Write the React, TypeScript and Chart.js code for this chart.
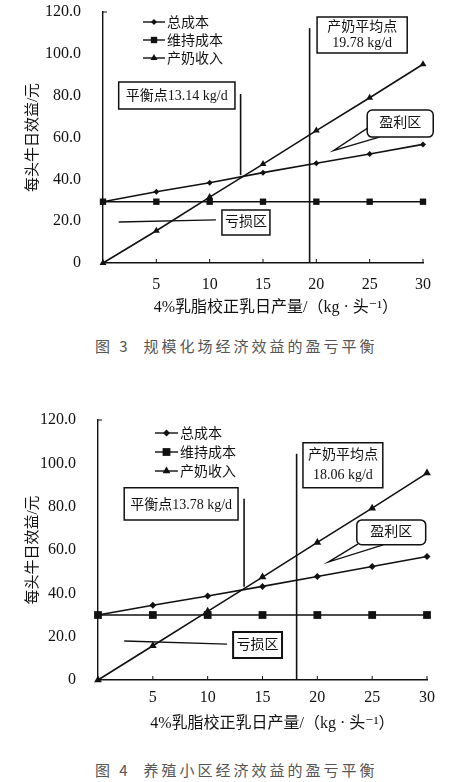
import React, { useEffect, useRef } from 'react';
import { Chart, registerables } from 'chart.js';
import { drawPoint } from 'chart.js/helpers';

Chart.register(...registerables);

// ---------- data ----------
const xValues = [0, 5, 10, 15, 20, 25, 30];
const yTickStep = 20;
const yMax = 120;
const xMax = 30;
const seriesLabels = ['总成本', '维持成本', '产奶收入'];

// 图3 规模化场
const farmTotalCost = [29.3, 34.1, 38.4, 43.2, 47.7, 52.1, 56.7];
const farmMaintCost = [29.3, 29.3, 29.3, 29.3, 29.3, 29.3, 29.3];
const farmMilkIncome = [0, 15.4, 31.5, 47.3, 63.3, 79.0, 95.0];

// 图4 养殖小区
const zoneTotalCost = [30.0, 34.5, 38.8, 43.2, 47.8, 52.4, 57.0];
const zoneMaintCost = [30.0, 30.0, 30.0, 30.0, 30.0, 30.0, 30.0];
const zoneMilkIncome = [0, 15.8, 31.7, 47.5, 63.5, 79.3, 95.5];

const xTitle = '4%乳脂校正乳日产量/（kg · 头⁻¹）';
const yTitle = '每头牛日效益/元';

// ---------- styles ----------
const INK = '#111';
const FONT = '"Liberation Serif", "Times New Roman", "DejaVu Serif", "Noto Sans CJK SC", serif';
const pointStyles = ['rectRot', 'rect', 'triangle'];

type Box = [number, number, number, number]; // x1, y1, x2, y2 in data units

interface PanelCfg {
  height: number;
  padTop: number;
  padRight: number;
  yAxisWidth: number;
  xAxisHeight: number;
  xTickPad: number;
  xTitleCenter: number;
  xTitleDy: number;
  series: number[][];
  radii: number[];
  legendDx: number;
  legendDy: number[];
  legendLen: number;
  breakEvenText: string;
  breakEvenBox: Box;
  breakEvenLine: [number, number, number];
  avgText: string[];
  avgBox: Box;
  avgLine: [number, number, number];
  profitText: string;
  profitBox: Box;
  profitTail: [number, number][];
  lossText: string;
  lossBox: Box;
  lossLine: [number, number, number, number];
  lossBorder: number;
}

const farmCfg: PanelCfg = {
  height: 325,
  padTop: 12,
  padRight: 42,
  yAxisWidth: 103,
  xAxisHeight: 62,
  xTickPad: 4,
  xTitleCenter: 16.2,
  xTitleDy: 45,
  series: [farmTotalCost, farmMaintCost, farmMilkIncome],
  radii: [3, 4.5, 4],
  legendDx: 40,
  legendDy: [10, 28, 46],
  legendLen: 22,
  breakEvenText: '平衡点13.14 kg/d',
  breakEvenBox: [1.47, 86.5, 12.37, 73.6],
  breakEvenLine: [12.9, 42, 80.8],
  avgText: ['产奶平均点', '19.78 kg/d'],
  avgBox: [20.07, 117.6, 28.52, 100.4],
  avgLine: [19.37, 0, 112.3],
  profitText: '盈利区',
  profitBox: [24.77, 73.1, 30.96, 60.2],
  profitTail: [[24.8, 64.5], [21.6, 53.7], [25.9, 60.2]],
  lossText: '亏损区',
  lossBox: [11.15, 25.3, 15.65, 13.4],
  lossLine: [1.47, 19.6, 10.59, 20.6],
  lossBorder: 1.5,
};

const zoneCfg: PanelCfg = {
  height: 345,
  padTop: 20,
  padRight: 38,
  yAxisWidth: 98,
  xAxisHeight: 65,
  xTickPad: 0,
  xTitleCenter: 15.9,
  xTitleDy: 44,
  series: [zoneTotalCost, zoneMaintCost, zoneMilkIncome],
  radii: [3.5, 5.5, 4.5],
  legendDx: 57,
  legendDy: [13, 32, 51],
  legendLen: 23,
  breakEvenText: '平衡点13.78 kg/d',
  breakEvenBox: [2.39, 88.7, 12.77, 73.9],
  breakEvenLine: [13.32, 43.0, 83.6],
  avgText: ['产奶平均点', '18.06 kg/d'],
  avgBox: [18.69, 109.5, 25.97, 88.7],
  avgLine: [18.11, 0, 104.4],
  profitText: '盈利区',
  profitBox: [23.6, 73.9, 29.88, 62.4],
  profitTail: [[23.72, 62.85], [20.99, 54.4], [26.0, 62.4]],
  lossText: '亏损区',
  lossBox: [12.32, 22.2, 16.78, 10.2],
  lossLine: [2.39, 18.0, 11.77, 16.6],
  lossBorder: 2,
};

function makePlugin(cfg: PanelCfg) {
  return {
    id: 'annotations',
    afterDatasetsDraw(chart: any) {
      const ctx: CanvasRenderingContext2D = chart.ctx;
      const xs = chart.scales.x;
      const ys = chart.scales.y;
      const px = (v: number) => xs.getPixelForValue(v);
      const py = (v: number) => ys.getPixelForValue(v);
      const area = chart.chartArea;
      const seg = (x1: number, y1: number, x2: number, y2: number, w: number) => {
        ctx.lineWidth = w;
        ctx.beginPath();
        ctx.moveTo(x1, y1);
        ctx.lineTo(x2, y2);
        ctx.stroke();
      };
      ctx.save();
      ctx.strokeStyle = INK;
      ctx.fillStyle = INK;

      // inner tick marks
      for (const v of xValues) {
        if (v > 0) seg(px(v), area.bottom, px(v), area.bottom - 4, 1);
      }
      seg(area.left, py(yMax), area.left + 4, py(yMax), 1);

      // vertical reference lines
      const [bx, by1, by2] = cfg.breakEvenLine;
      seg(px(bx), py(by1), px(bx), py(by2), 1.6);
      const [ax, ay1, ay2] = cfg.avgLine;
      seg(px(ax), py(ay1), px(ax), py(ay2), 1.6);

      // loss pointer line
      const [lx1, ly1, lx2, ly2] = cfg.lossLine;
      seg(px(lx1), py(ly1), px(lx2), py(ly2), 1.3);

      const rectBox = (b: Box, w: number, r = 0) => {
        const x1 = px(b[0]), y1 = py(b[1]), x2 = px(b[2]), y2 = py(b[3]);
        ctx.beginPath();
        if (r > 0) (ctx as any).roundRect(x1, y1, x2 - x1, y2 - y1, r);
        else ctx.rect(x1, y1, x2 - x1, y2 - y1);
        ctx.fillStyle = '#fff';
        ctx.fill();
        ctx.lineWidth = w;
        ctx.strokeStyle = INK;
        ctx.stroke();
        return { x1, y1, x2, y2, cx: (x1 + x2) / 2, cy: (y1 + y2) / 2, h: y2 - y1 };
      };
      const text = (s: string, x: number, y: number, size = 14) => {
        ctx.fillStyle = INK;
        ctx.font = `${size}px ${FONT}`;
        ctx.textAlign = 'center';
        ctx.textBaseline = 'middle';
        ctx.fillText(s, x, y);
      };

      // break-even box
      const be = rectBox(cfg.breakEvenBox, 1.5);
      text(cfg.breakEvenText, be.cx, be.cy + 1);

      // average yield box
      const av = rectBox(cfg.avgBox, 1.5);
      const gap = av.h * 0.42;
      text(cfg.avgText[0], av.cx, av.cy - gap / 2);
      text(cfg.avgText[1], av.cx, av.cy + gap / 2 + 1);

      // profit callout (tail + rounded box)
      const t = cfg.profitTail;
      ctx.beginPath();
      ctx.moveTo(px(t[0][0]), py(t[0][1]));
      ctx.lineTo(px(t[1][0]), py(t[1][1]));
      ctx.lineTo(px(t[2][0]), py(t[2][1]));
      ctx.fillStyle = '#fff';
      ctx.fill();
      ctx.lineWidth = 1.3;
      ctx.strokeStyle = INK;
      ctx.stroke();
      const pr = rectBox(cfg.profitBox, 1.5, 5);
      text(cfg.profitText, pr.cx, pr.cy);

      // loss box
      const lb = rectBox(cfg.lossBox, cfg.lossBorder);
      text(cfg.lossText, lb.cx, lb.cy);

      // x axis title
      text(xTitle, px(cfg.xTitleCenter), area.bottom + cfg.xTitleDy, 16);

      // legend
      const lx = area.left + cfg.legendDx;
      for (let i = 0; i < 3; i++) {
        const y = area.top + cfg.legendDy[i];
        ctx.strokeStyle = INK;
        seg(lx, y, lx + cfg.legendLen, y, 1.4);
        ctx.fillStyle = INK;
        drawPoint(ctx, { pointStyle: pointStyles[i] as any, rotation: 0, radius: cfg.radii[i], borderWidth: 0 } as any, lx + cfg.legendLen / 2, y);
        ctx.fillStyle = INK;
        ctx.font = `14px ${FONT}`;
        ctx.textAlign = 'left';
        ctx.textBaseline = 'middle';
        ctx.fillText(seriesLabels[i], lx + cfg.legendLen + 2, y + 1);
      }
      ctx.restore();
    },
  };
}

function Panel({ cfg, top }: { cfg: PanelCfg; top: number }) {
  const ref = useRef<HTMLCanvasElement>(null);
  useEffect(() => {
    const chart = new Chart(ref.current as HTMLCanvasElement, {
      type: 'line',
      data: {
        datasets: cfg.series.map((arr, i) => ({
          label: seriesLabels[i],
          data: xValues.map((x, j) => ({ x, y: arr[j] })),
          borderColor: INK,
          backgroundColor: INK,
          borderWidth: 1.6,
          pointStyle: pointStyles[i] as any,
          pointRadius: cfg.radii[i],
          pointBorderWidth: 0,
          pointBackgroundColor: INK,
          tension: 0,
          clip: false as any,
        })),
      },
      options: {
        animation: false,
        responsive: true,
        maintainAspectRatio: false,
        layout: { padding: { top: cfg.padTop, right: cfg.padRight, left: 0, bottom: 0 } },
        plugins: { legend: { display: false }, tooltip: { enabled: false } },
        scales: {
          x: {
            type: 'linear',
            min: 0,
            max: xMax,
            afterFit: (s: any) => {
              s.height = cfg.xAxisHeight;
              s.paddingLeft = 0;
              s.paddingRight = 0;
            },
            grid: { display: false },
            border: { display: true, color: INK, width: 1.4 },
            ticks: {
              stepSize: 5,
              padding: cfg.xTickPad,
              color: INK,
              font: { family: FONT, size: 16 },
              maxRotation: 0,
              callback: (v: any) => (Number(v) === 0 ? '' : String(v)),
            },
            title: { display: false },
          },
          y: {
            min: 0,
            max: yMax,
            afterFit: (s: any) => {
              s.width = cfg.yAxisWidth;
              s.paddingTop = 0;
              s.paddingBottom = 0;
            },
            grid: { display: false },
            border: { display: true, color: INK, width: 1.4 },
            ticks: {
              stepSize: yTickStep,
              padding: 14,
              color: INK,
              font: { family: FONT, size: 16 },
              callback: (v: any) => (Number(v) === 0 ? '0' : Number(v).toFixed(1)),
            },
            title: {
              display: true,
              text: yTitle,
              color: INK,
              font: { family: FONT, size: 15 },
              padding: { top: 24, bottom: 0 },
            },
          },
        },
      },
      plugins: [makePlugin(cfg)],
    } as any);
    return () => chart.destroy();
  }, [cfg]);
  return (
    <div style={{ position: 'absolute', left: 0, top, width: 465, height: cfg.height }}>
      <canvas ref={ref} />
    </div>
  );
}

const captionStyle: React.CSSProperties = {
  position: 'absolute',
  left: 95,
  fontFamily: '"Noto Sans CJK SC", sans-serif',
  fontSize: 15,
  letterSpacing: 3,
  lineHeight: '20px',
  color: '#555',
  whiteSpace: 'pre',
};

export default function App() {
  return (
    <div style={{ position: 'absolute', left: 0, top: 0, width: 465, height: 782, background: '#fff', overflow: 'hidden' }}>
      <Panel cfg={farmCfg} top={0} />
      <div style={{ ...captionStyle, top: 336 }}>{'图 3  规模化场经济效益的盈亏平衡'}</div>
      <Panel cfg={zoneCfg} top={400} />
      <div style={{ ...captionStyle, top: 760 }}>{'图 4  养殖小区经济效益的盈亏平衡'}</div>
    </div>
  );
}
